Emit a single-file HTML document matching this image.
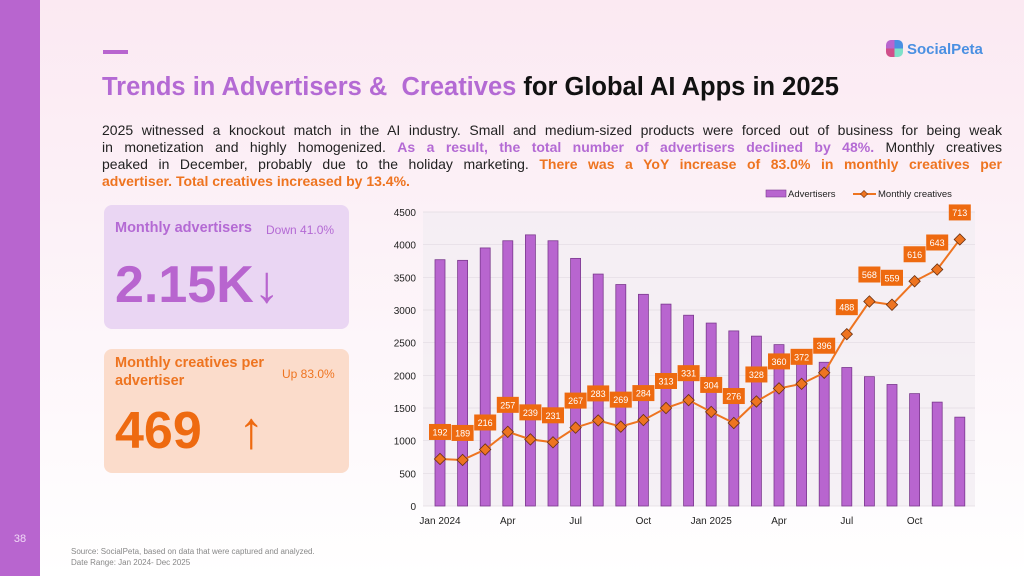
<!DOCTYPE html>
<html><head><meta charset="utf-8"><style>
*{margin:0;padding:0;box-sizing:border-box}
body{width:1024px;height:576px;overflow:hidden;background:linear-gradient(#fbe9f2,#fdf6fa 60%,#fff);font-family:"Liberation Sans",sans-serif;position:relative}
.side{position:absolute;left:0;top:0;width:40px;height:576px;background:#b865cf}
.pg{position:absolute;left:0;top:533px;width:40px;text-align:center;color:#f1d9f7;font-size:11px}
.dash{position:absolute;left:103px;top:50px;width:25px;height:4px;background:#b865cf}
h1{position:absolute;left:102px;top:73px;font-size:25.5px;font-weight:bold;color:#111;white-space:nowrap}
h1 span{color:#b46ad4}
.logo{position:absolute;left:886px;top:40px;font-size:15px;font-weight:bold;color:#4a90e2}
.logo i{display:inline-block;width:17px;height:17px;border-radius:5px;vertical-align:-3px;margin-right:4px;background:conic-gradient(#4a90e2 0 25%,#7fe0c8 25% 50%,#d04f8a 50% 75%,#b865cf 75%)}
.txt{position:absolute;left:102px;top:122px;width:900px;font-size:14px;line-height:17px;color:#222}
.txt div{text-align:justify;text-align-last:justify;white-space:nowrap}
.txt div.l{text-align-last:left}
.p{color:#b46ad4;font-weight:bold}.o{color:#ee7420;font-weight:bold}
.card{position:absolute;left:104px;width:245px;border-radius:8px}
.c1{top:205px;height:124px;background:#ead6f3}
.c2{top:349px;height:124px;background:#fbdccb}
.lab{position:absolute;font-weight:bold;font-size:14.5px}
.sm{position:absolute;font-size:12px}
.big{position:absolute;font-weight:bold;font-size:52px}
.src{position:absolute;left:71px;top:546px;font-size:8px;color:#888;line-height:11px}
</style></head><body>
<div class="side"></div><div class="pg">38</div>
<div class="dash"></div>
<h1><span>Trends in Advertisers &amp;&nbsp; Creatives</span> for Global AI Apps in 2025</h1>
<div class="logo"><i></i>SocialPeta</div>
<div class="txt">
<div>2025 witnessed a knockout match in the AI industry. Small and medium-sized products were forced out of business for being weak</div>
<div>in monetization and highly homogenized. <span class="p">As a result, the total number of advertisers declined by 48%.</span> Monthly creatives</div>
<div>peaked in December, probably due to the holiday marketing. <span class="o">There was a YoY increase of 83.0% in monthly creatives per</span></div>
<div class="l"><span class="o">advertiser. Total creatives increased by 13.4%.</span></div>
</div>
<div class="card c1">
<div class="lab" style="left:11px;top:15px;color:#b46ad4">Monthly advertisers</div>
<div class="sm" style="left:162px;top:18px;color:#b46ad4">Down 41.0%</div>
<div class="big" style="left:11px;top:50px;color:#b865cf">2.15K<span style="font-weight:normal">↓</span></div>
</div>
<div class="card c2">
<div class="lab" style="left:11px;top:5px;color:#ee7420;line-height:18px">Monthly creatives per<br>advertiser</div>
<div class="sm" style="left:178px;top:18px;color:#ee7420">Up 83.0%</div>
<div class="big" style="left:11px;top:52px;color:#ee6a10">469 <span style="font-weight:normal;margin-left:22px">↑</span></div>
</div>
<div class="src">Source: SocialPeta, based on data that were captured and analyzed.<br>Date Range: Jan 2024- Dec 2025</div>
<svg id="ch" style="position:absolute;left:0;top:0" width="1024" height="576"></svg>
<script>
var s='',x0=440,dx=22.6,y0=506,k=294/4500;
var bars=[3770,3760,3950,4060,4150,4060,3790,3550,3390,3240,3090,2920,2800,2680,2600,2470,2370,2200,2120,1980,1860,1720,1590,1360];
var cr=[192,189,216,257,239,231,267,283,269,284,313,331,304,276,328,360,372,396,488,568,559,616,643,713];
var ly=[720,705,865,1135,1020,975,1200,1310,1215,1315,1500,1620,1440,1270,1600,1800,1870,2040,2630,3130,3080,3440,3620,4080];
s+='<rect x="423" y="212" width="552" height="294" fill="#f3edf3" opacity="0.8"/>';
for(var v=0;v<=4500;v+=500){var y=y0-v*k;s+='<line x1="423" x2="975" y1="'+y+'" y2="'+y+'" stroke="#e2dbe2" stroke-width="0.7"/><text x="416" y="'+(y+4)+'" text-anchor="end" font-size="10" fill="#222">'+v+'</text>';}
for(var i=0;i<24;i++){var x=x0+i*dx,h=bars[i]*k;s+='<rect x="'+(x-5)+'" y="'+(y0-h)+'" width="10" height="'+h+'" fill="#b865cf" stroke="#7b3a8e" stroke-width="0.8"/>';}
var pts=ly.map(function(v,i){return (x0+i*dx)+','+(y0-v*k)}).join(' ');
s+='<polyline points="'+pts+'" fill="none" stroke="#ee7420" stroke-width="2"/>';
for(var i=0;i<24;i++){var x=x0+i*dx,y=y0-ly[i]*k;s+='<rect x="'+(x-4)+'" y="'+(y-4)+'" width="8" height="8" transform="rotate(45 '+x+' '+y+')" fill="#ee7420" stroke="#6a3010" stroke-width="0.8"/>';
s+='<rect x="'+(x-11)+'" y="'+(y-35)+'" width="22" height="16" fill="#ee6a10"/><text x="'+x+'" y="'+(y-23.5)+'" text-anchor="middle" font-size="9" fill="#fff">'+cr[i]+'</text>';}
var ml=['Jan 2024','Apr','Jul','Oct','Jan 2025','Apr','Jul','Oct'];
for(var j=0;j<8;j++){s+='<text x="'+(x0+j*3*dx)+'" y="524" text-anchor="middle" font-size="10" fill="#222">'+ml[j]+'</text>';}
s+='<rect x="766" y="190" width="20" height="7" fill="#b865cf" stroke="#7b3a8e" stroke-width="0.6"/><text x="788" y="197" font-size="9.5" fill="#222">Advertisers</text>';
s+='<line x1="853" x2="876" y1="194" y2="194" stroke="#ee7420" stroke-width="2"/><rect x="861.5" y="191.5" width="5" height="5" transform="rotate(45 864 194)" fill="#ee7420" stroke="#6a3010" stroke-width="0.6"/><text x="878" y="197" font-size="9.5" fill="#222">Monthly creatives</text>';
document.getElementById('ch').innerHTML=s;
</script>
</body></html>
